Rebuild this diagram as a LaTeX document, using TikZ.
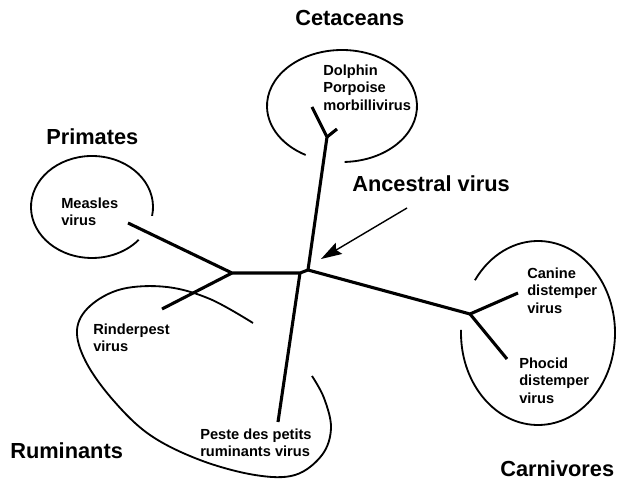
\documentclass[tikz,border=0pt]{standalone}
\usepackage{fontspec}
\setmainfont{Liberation Sans}
\usetikzlibrary{arrows.meta}

\begin{document}
\begin{tikzpicture}[x=0.025cm, y=0.025cm,
  branch/.style={line width=2.2pt, line join=round},
  hostring/.style={line width=1.3pt},
  taxon/.style={anchor=base west, inner sep=0pt, font=\fontsize{15.5}{18}\selectfont\bfseries},
  virus/.style={anchor=north west, inner sep=0pt, align=left, font=\fontsize{10.4}{12.4}\selectfont\bfseries}]
\useasboundingbox (0,0) rectangle (617,480);

% tree
\coordinate (R) at (308,210);
\coordinate (J) at (300,207);
\coordinate (L) at (232,207);
\coordinate (Me) at (128,257);
\coordinate (Ri) at (162,171);
\coordinate (Pe) at (278,58);
\coordinate (Cf) at (327,343);
\coordinate (Do) at (312,373);
\coordinate (Po) at (337,351);
\coordinate (Kf) at (470,166);
\coordinate (Ca) at (518,187);
\coordinate (Ph) at (507,121);

\draw[branch] (R) -- (J) -- (L) -- (Me);
\draw[branch] (L) -- (Ri);
\draw[branch] (J) -- (Pe);
\draw[branch] (R) -- (Cf) -- (Do);
\draw[branch] (Cf) -- (Po);
\draw[branch] (R) -- (Kf) -- (Ca);
\draw[branch] (Kf) -- (Ph);

% host groups
\draw[hostring] (92,273) ++(-10:61 and 51) arc[start angle=-10, end angle=320, x radius=61, y radius=51];
\draw[hostring] (342,374) ++(272:75 and 56) arc[start angle=272, end angle=601, x radius=75, y radius=56];
\draw[hostring] (538,147) ++(178:77 and 92) arc[start angle=178, end angle=505, x radius=77, y radius=92];
\draw[hostring] plot[smooth, tension=0.6] coordinates {(253,157) (210,181) (167,193) (122,191) (90,174) (77,150) (86,118) (113,80) (150,45) (200,20) (255,5) (295,5) (322,25) (331,52) (324,82) (312,104)};

% ancestor
\coordinate (As) at (407,272);
\coordinate (At) at (321,221);
\draw[line width=1pt, -{Stealth[length=5.2mm, width=3.2mm, inset=0.8mm]}] (As) -- (At);

\node[taxon] (ceta) at (295,454) {Cetaceans};
\node[taxon] (prim) at (46,335) {Primates};
\node[taxon] (anc) at (352,288) {Ancestral virus};
\node[taxon] (rum) at (10,22) {Ruminants};
\node[taxon] (carn) at (500,4) {Carnivores};

\node[virus] (dolph) at (323,415.4) {Dolphin\\Porpoise\\morbillivirus};
\node[virus] (meas) at (61,282.4) {Measles\\virus};
\node[virus] (rind) at (93,156.4) {Rinderpest\\virus};
\node[virus] (ppr) at (200,51.4) {Peste des petits\\ruminants virus};
\node[virus] (cdv) at (527,212.4) {Canine\\distemper\\virus};
\node[virus] (pdv) at (519,122.4) {Phocid\\distemper\\virus};
\end{tikzpicture}
\end{document}
